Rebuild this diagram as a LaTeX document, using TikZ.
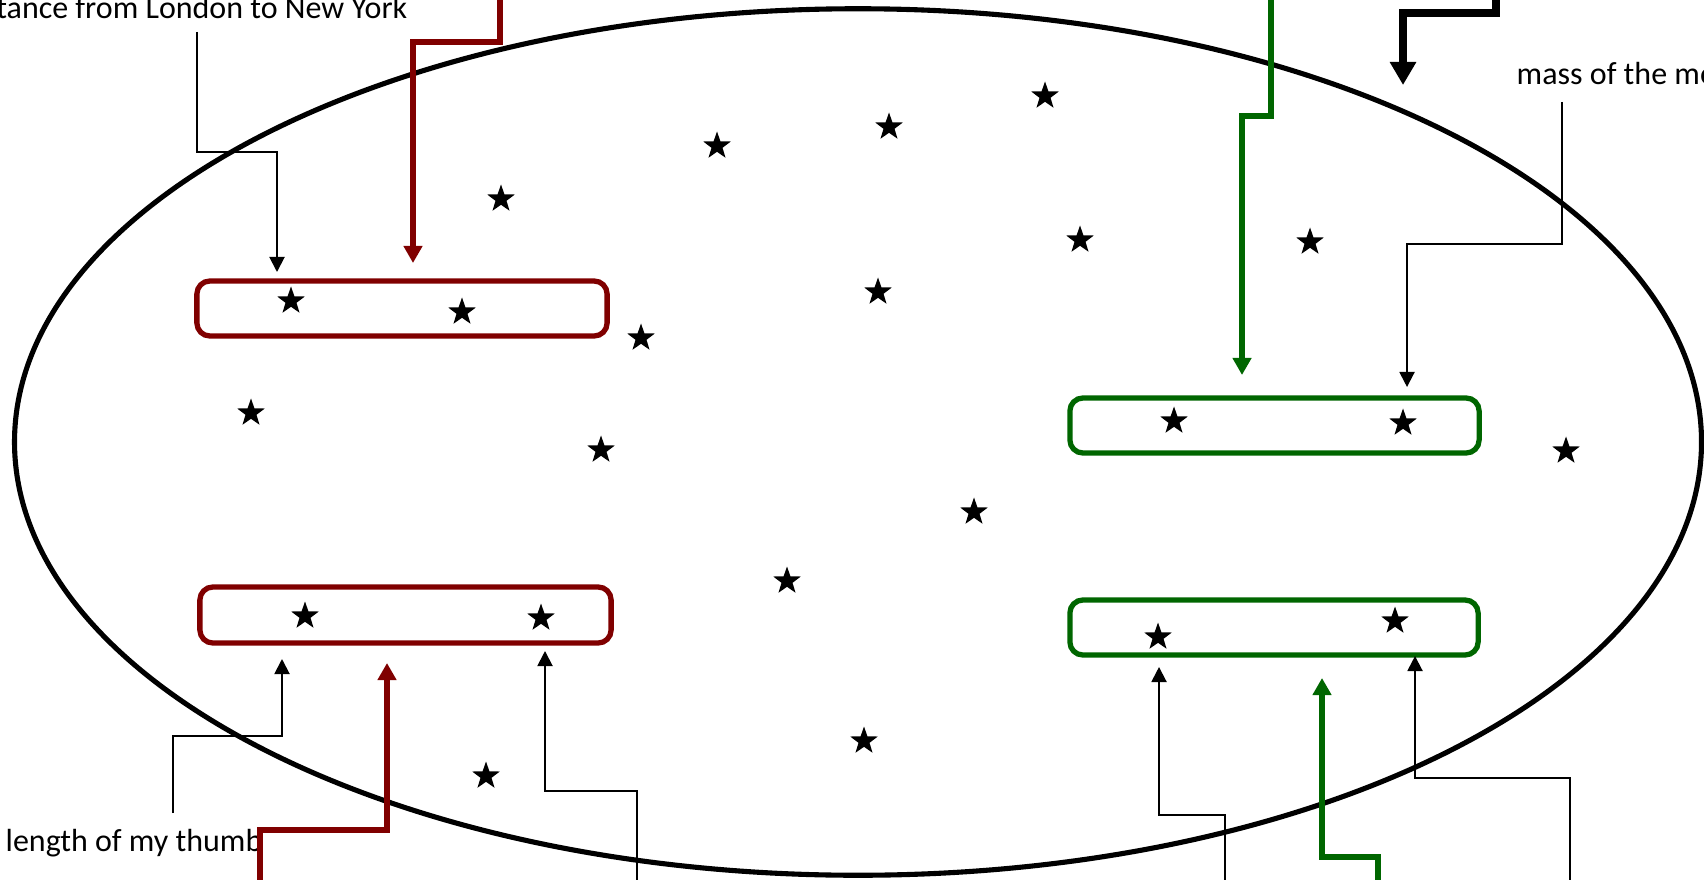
\documentclass[tikz,border=0pt]{standalone}
\usepackage{fontspec}
\setmainfont{Carlito}
\usetikzlibrary{arrows.meta,shapes.geometric}
\definecolor{setred}{RGB}{128,0,0}
\definecolor{setgreen}{RGB}{0,102,0}
\begin{document}
\begin{tikzpicture}[x=0.01cm,y=-0.01cm,
  starnode/.style={star,star points=5,star point ratio=2.5,fill=black,draw=none,inner sep=0pt,minimum size=0.29cm},
  setbox/.style={rectangle,line width=1.5pt,rounded corners=0.13cm,inner sep=0pt},
  redbox/.style={setbox,draw=setred},
  greenbox/.style={setbox,draw=setgreen},
  lbl/.style={inner sep=0pt,font=\fontsize{9.1}{11}\selectfont},
  thinarrow/.style={draw=black,line width=0.55pt,-{Triangle[width=0.15cm,length=0.15cm]}},
  redarrow/.style={draw=setred,line width=1.6pt,-{Triangle[width=0.18cm,length=0.17cm]}},
  greenarrow/.style={draw=setgreen,line width=1.6pt,-{Triangle[width=0.18cm,length=0.17cm]}},
  bigarrow/.style={draw=black,line width=2.3pt,-{Triangle[width=0.25cm,length=0.23cm]}}]
\useasboundingbox (0,0) rectangle (1704,879);
\fill[white] (0,0) rectangle (1704,879);

% universe
\node[ellipse,draw=black,line width=1.45pt,minimum width=16.86cm,minimum height=8.66cm,inner sep=0pt] (universe) at (858,442) {};

% sets
\node[redbox,minimum width=4.10cm,minimum height=0.55cm] (r1) at (402,308.5) {};
\node[redbox,minimum width=4.11cm,minimum height=0.56cm] (r2) at (405.5,615) {};
\node[greenbox,minimum width=4.09cm,minimum height=0.55cm] (g1) at (1274.5,425.5) {};
\node[greenbox,minimum width=4.08cm,minimum height=0.55cm] (g2) at (1274,627.5) {};

% stars
\foreach \n/\x/\y in {s1/291/301, s2/462/312, s3/641/338, s4/251/413, s5/601/450,
  s6/501/199, s7/717/146, s8/889/127, s9/1045/96, s10/1080/240, s11/878/292,
  s12/1310/242, s13/974/512, s14/787/581, s15/864/741, s16/486/776, s17/1566/451,
  s18/305/616, s19/541/618, s20/1174/421, s21/1403/423, s22/1158/637, s23/1395/621}
  \node[starnode] (\n) at (\x,\y) {};

% labels
\node[lbl,anchor=base east] (dist) at (408,18.5) {tance from London to New York};
\node[lbl,anchor=base west] (mass) at (1516,85) {mass of the mo};
\node[lbl,anchor=base west] (thumb) at (5,851) {length of my thumb};

% connector end points
\coordinate (d0) at (197,32);   \coordinate (d1) at (277,152);  \coordinate (d2) at (277,272);
\coordinate (rt0) at (500,-5);  \coordinate (rt1) at (413,42);  \coordinate (rt2) at (413,263);
\coordinate (bt0) at (1496,-5); \coordinate (bt1) at (1403,13); \coordinate (bt2) at (1403,85);
\coordinate (gt0) at (1271,-5); \coordinate (gt1) at (1242,116); \coordinate (gt2) at (1242,375);
\coordinate (m0) at (1562,102); \coordinate (m1) at (1407,244); \coordinate (m2) at (1407,387);
\coordinate (t0) at (173,813);  \coordinate (t1) at (282,736);  \coordinate (t2) at (282,659);
\coordinate (rb0) at (260,885); \coordinate (rb1) at (387,830); \coordinate (rb2) at (387,663);
\coordinate (k0) at (637,885);  \coordinate (k1) at (545,791);  \coordinate (k2) at (545,651);
\coordinate (gl0) at (1225,885); \coordinate (gl1) at (1159,815); \coordinate (gl2) at (1159,667);
\coordinate (gb0) at (1378,885); \coordinate (gb1) at (1322,857); \coordinate (gb2) at (1322,678);
\coordinate (gr0) at (1570,885); \coordinate (gr1) at (1415,778); \coordinate (gr2) at (1415,656);

% connectors
\draw[thinarrow] (d0) |- (d1) -- (d2);
\draw[redarrow] (rt0) |- (rt1) -- (rt2);
\draw[bigarrow] (bt0) |- (bt1) -- (bt2);
\draw[greenarrow] (gt0) |- (gt1) -- (gt2);
\draw[thinarrow] (m0) |- (m1) -- (m2);
\draw[thinarrow] (t0) |- (t1) -- (t2);
\draw[redarrow] (rb0) |- (rb1) -- (rb2);
\draw[thinarrow] (k0) |- (k1) -- (k2);
\draw[thinarrow] (gl0) |- (gl1) -- (gl2);
\draw[greenarrow] (gb0) |- (gb1) -- (gb2);
\draw[thinarrow] (gr0) |- (gr1) -- (gr2);
\end{tikzpicture}
\end{document}
